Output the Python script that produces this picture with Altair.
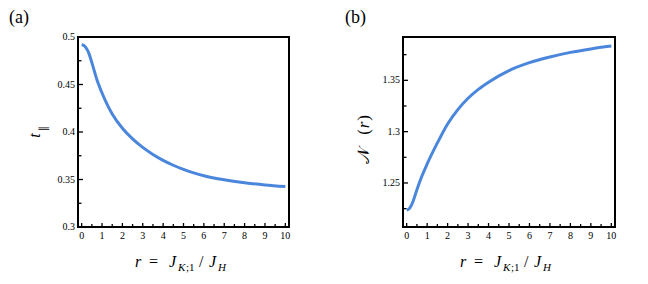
import altair as alt
import pandas as pd

# ---- data ----
r_a = [0, 0.1, 0.2, 0.35, 0.5, 0.75, 1, 1.25, 1.5, 2, 2.5, 3, 3.5, 4, 4.5, 5, 5.5, 6, 7, 8, 9, 10]
t_par = [0.4918, 0.4912, 0.4890, 0.4830, 0.4730, 0.4550, 0.4410, 0.4290, 0.4190, 0.4040,
         0.3928, 0.3838, 0.3764, 0.3702, 0.3650, 0.3606, 0.3570, 0.3540, 0.3497, 0.3466,
         0.3443, 0.3426]

r_b = [0, 0.15, 0.3, 0.5, 0.75, 1, 1.5, 2, 2.5, 3, 3.5, 4, 5, 6, 7, 8, 9, 10]
n_r = [1.2235, 1.2255, 1.2315, 1.2435, 1.2570, 1.2685, 1.2890, 1.3075, 1.3215, 1.3325,
       1.3412, 1.3482, 1.3595, 1.3672, 1.3727, 1.3772, 1.3806, 1.3834]

x_ticks_major = list(range(0, 11))
x_tick_labels = ["0", "1", "2", "3", "4", "5", "6", "7", "8", "9", "10"]
x_ticks_minor = [i + 0.5 for i in range(0, 10)]
ya_major = [0.3, 0.35, 0.4, 0.45, 0.5]
ya_labels = ["0.3", "0.35", "0.4", "0.45", "0.5"]
ya_minor = [0.325, 0.375, 0.425, 0.475]
yb_major = [1.25, 1.3, 1.35]
yb_labels = ["1.25", "1.3", "1.35"]
yb_minor = [1.225, 1.275, 1.325, 1.375]

SERIF = "Liberation Serif"
COLOR = "#4A86DC"
H = 190
XDOM = [-0.18, 10.18]
one = pd.DataFrame({"k": [0]})


def txt(s, x, y, size=16, italic=False, angle=0, align="left",
        baseline="alphabetic", font=SERIF):
    return alt.Chart(one).mark_text(
        text=s, fontSize=size, fontStyle="italic" if italic else "normal",
        angle=angle, align=align, baseline=baseline, font=font, color="black"
    ).encode(x=alt.value(x), y=alt.value(y))


def xtitle():
    b, s = H + 40, H + 44
    return [
        txt("r", 57, b, italic=True),
        txt("=", 71, b),
        txt("J", 91, b, italic=True),
        txt("K", 100, s, size=11, italic=True),
        txt(";1", 108, s, size=11),
        txt("/", 121, b),
        txt("J", 131, b, italic=True),
        txt("H", 140, s, size=11, italic=True),
    ]


def panel(xs, ys, yname, ydom, ymaj, ylab, ymin, width, extra):
    df = pd.DataFrame({"r": xs, yname: ys})
    xsc = alt.Scale(domain=XDOM, nice=False, zero=False)
    ysc = alt.Scale(domain=ydom, nice=False, zero=False)
    line = alt.Chart(df).mark_line(color=COLOR, strokeWidth=3, interpolate="monotone").encode(
        x=alt.X("r:Q", scale=xsc, axis=None),
        y=alt.Y(f"{yname}:Q", scale=ysc, axis=None),
    )
    # tick lengths converted from pixels to data units
    py = (ydom[1] - ydom[0]) / H
    px = (XDOM[1] - XDOM[0]) / width

    def xticks(vals, L):
        d = pd.DataFrame({"v": vals, "lo": ydom[0], "hi": ydom[0] + L * py})
        return alt.Chart(d).mark_rule(color="black", strokeWidth=1.3).encode(
            x=alt.X("v:Q", scale=xsc, axis=None),
            y=alt.Y("lo:Q", scale=ysc, axis=None), y2="hi:Q")

    def yticks(vals, L):
        d = pd.DataFrame({"w": vals, "lo": XDOM[0], "hi": XDOM[0] + L * px})
        return alt.Chart(d).mark_rule(color="black", strokeWidth=1.3).encode(
            y=alt.Y("w:Q", scale=ysc, axis=None),
            x=alt.X("lo:Q", scale=xsc, axis=None), x2="hi:Q")

    # tick labels placed with the same linear mapping the scales use
    def sx(v):
        return (v - XDOM[0]) / (XDOM[1] - XDOM[0]) * width

    def sy(v):
        return H - (v - ydom[0]) / (ydom[1] - ydom[0]) * H

    xlabs = [txt(t, sx(v), H + 9, size=10, align="center", baseline="middle")
             for v, t in zip(x_ticks_major, x_tick_labels)]
    ylabs = [txt(t, -3, sy(v), size=10, align="right", baseline="middle")
             for v, t in zip(ymaj, ylab)]

    layers = ([line, xticks(x_ticks_major, 4), xticks(x_ticks_minor, 3),
               yticks(ymaj, 5), yticks(ymin, 3.5)] + xlabs + ylabs + xtitle() + extra)
    return alt.layer(*layers).properties(width=width, height=H)


extra_a = [
    txt("(a)", -69, -14, size=18),
    txt("t", -38, 98.5, size=16, italic=True, angle=270, align="center"),
    txt("\u2225", -34.5, 91.5, size=11, angle=270, align="center", baseline="middle",
        font="DejaVu Sans"),
]
extra_b = [
    txt("(b)", -58, -14, size=18),
    txt("\U0001D4A9", -34, 118.5, size=17, angle=270, align="center", font="DejaVu Serif"),
    txt("(", -34, 95, size=17, angle=270, align="center"),
    txt("r", -34, 88, size=17, italic=True, angle=270, align="center"),
    txt(")", -34, 81, size=17, angle=270, align="center"),
]

pa = panel(r_a, t_par, "t", [0.3, 0.5], ya_major, ya_labels, ya_minor, 211, extra_a)
pb = panel(r_b, n_r, "N", [1.2071, 1.3922], yb_major, yb_labels, yb_minor, 212, extra_b)

chart = alt.hconcat(pa, pb, spacing=114, bounds="flush").resolve_scale(
    x="independent", y="independent"
).properties(padding=0, background="white").configure_view(
    stroke="black", strokeWidth=2
)

chart.save("out.html", embed_options={"renderer": "svg", "actions": False})
